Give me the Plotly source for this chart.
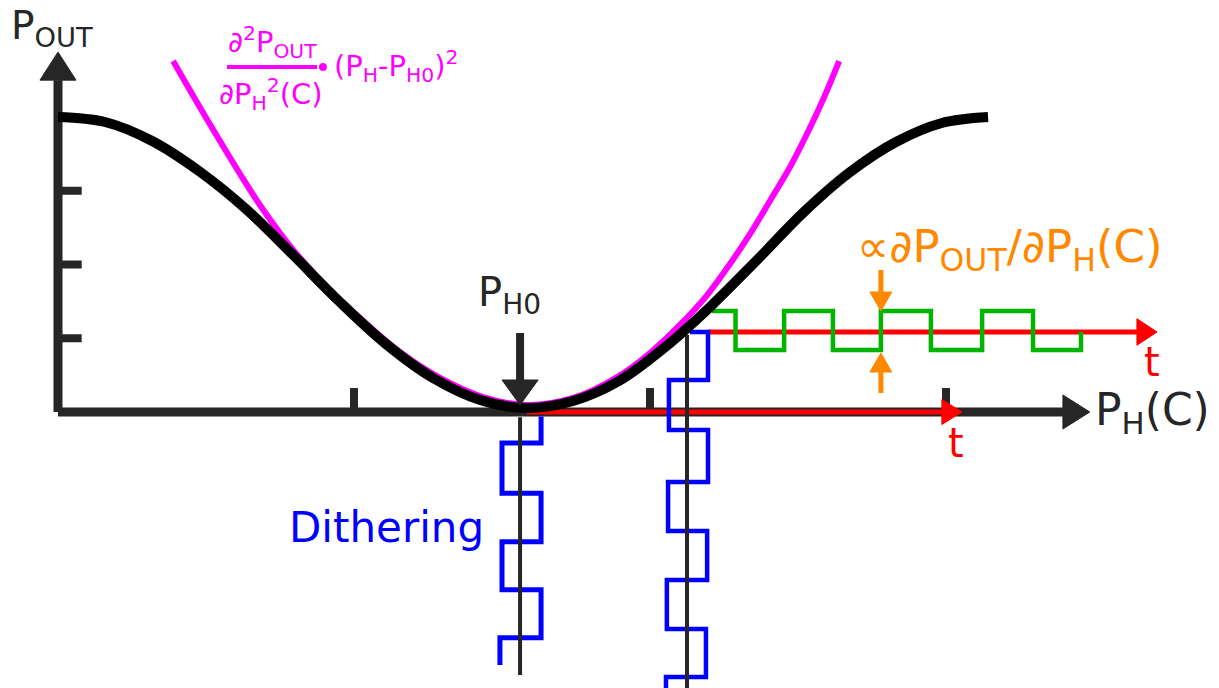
import plotly.graph_objects as go

# ---- Transfer curve P_OUT(P_H) (x: heater power in tick units, y: output power in tick units)
PH_CURVE = [0.0, 0.159, 0.318, 0.476, 0.635, 0.791, 0.949, 1.108, 1.267, 1.426, 1.584,
            1.740, 1.895, 2.051, 2.206, 2.365, 2.520, 2.676, 2.831, 2.986, 3.142]
POUT_CURVE = [4.0, 3.932, 3.675, 3.268, 2.753, 2.142, 1.505, 0.922, 0.461, 0.163, 0.054,
              0.149, 0.42, 0.88, 1.437, 2.075, 2.712, 3.254, 3.661, 3.919, 4.0]

# ---- Second-order (parabolic) approximation around P_H0
PH_PARAB = [0.389, 0.463, 0.541, 0.615, 0.682, 0.750, 0.818, 0.919, 1.020, 1.155, 1.291, 1.436,
            1.584, 1.740, 1.895, 2.0, 2.101, 2.193, 2.270, 2.338, 2.405, 2.473, 2.530, 2.584, 2.639]
POUT_PARAB = [4.76, 4.244, 3.715, 3.227, 2.807, 2.427, 2.088, 1.654, 1.275, 0.814, 0.461, 0.203,
              0.095, 0.19, 0.488, 0.80, 1.18, 1.586, 2.007, 2.414, 2.861, 3.322, 3.769, 4.231, 4.759]

# ---- Axis ticks
PH_TICKS = [1, 2, 3]
POUT_TICKS = [1, 2, 3]

# ---- Working points
PH0 = 1.561          # bottom of the curve
PH1 = 2.125          # point on the slope

# ---- Dither signals (time runs downward)
DITHER0_X = [1.632, 1.632, 1.5, 1.5, 1.632, 1.632, 1.5, 1.5, 1.632, 1.632, 1.493, 1.493]
DITHER0_Y = [-0.06, -0.42, -0.42, -1.10, -1.10, -1.76, -1.76, -2.41, -2.41, -3.06, -3.06, -3.43]
DITHER1_X = [2.135, 2.196, 2.196, 2.064, 2.064, 2.196, 2.196, 2.061, 2.061, 2.193, 2.193,
             2.057, 2.057, 2.189, 2.189, 2.054, 2.054]
DITHER1_Y = [1.085, 1.085, 0.434, 0.434, -0.244, -0.244, -0.949, -0.949, -1.614, -1.614,
             -2.278, -2.278, -2.942, -2.942, -3.593, -3.593, -3.80]

# ---- Output response at the slope point (time runs to the right)
RESP_T = [2.209, 2.289, 2.289, 2.453, 2.453, 2.618, 2.618, 2.780, 2.780, 2.949, 2.949,
          3.122, 3.122, 3.294, 3.294, 3.456, 3.456]
RESP_V = [1.37, 1.37, 0.84, 0.84, 1.37, 1.37, 0.84, 0.84, 1.37, 1.37, 0.84,
          0.84, 1.37, 1.37, 0.84, 0.84, 1.085]
RESP_BASE = 1.085    # level of the upper time axis

DARK = "#262626"
MAGENTA = "#ff00ff"
RED = "#ff0000"
GREEN = "#00b400"
BLUE = "#0000ff"
ORANGE = "#ff8800"
FONT = "DejaVu Sans"

fig = go.Figure()


def line(xs, ys, color, width, shape="linear"):
    fig.add_trace(go.Scatter(x=xs, y=ys, mode="lines", hoverinfo="skip",
                             line=dict(color=color, width=width, shape=shape, smoothing=1.0)))


def tri(xs, ys, color):
    fig.add_trace(go.Scatter(x=xs + [xs[0]], y=ys + [ys[0]], mode="lines", fill="toself",
                             fillcolor=color, line=dict(color=color, width=1), hoverinfo="skip"))


def arrow_right(x0, x_base, x_tip, y, hh, color, width):
    line([x0, x_base], [y, y], color, width)
    tri([x_base, x_tip, x_base], [y - hh, y, y + hh], color)


def arrow_vert(x, y0, y_base, y_tip, hw, color, width):
    line([x, x], [y0, y_base], color, width)
    tri([x - hw, x, x + hw], [y_base, y_tip, y_base], color)


# axes
arrow_right(0, 3.395, 3.486, 0, 0.23, DARK, 9)
arrow_vert(0, 0, 4.5, 4.88, 0.061, DARK, 9)
for t in PH_TICKS:
    line([t, t], [0, 0.325], DARK, 8)
for t in POUT_TICKS:
    line([0, 0.08], [t, t], DARK, 8)

# time axes
arrow_right(1.584, 2.986, 3.054, 0, 0.17, RED, 5)
arrow_right(2.196, 3.645, 3.713, RESP_BASE, 0.18, RED, 5)

# output response
line(RESP_T, RESP_V, GREEN, 4.5)

# dither signals and their centre lines
line(DITHER0_X, DITHER0_Y, BLUE, 5)
line(DITHER1_X, DITHER1_Y, BLUE, 4.5)
line([PH0, PH0], [-0.07, -3.566], DARK, 4)
line([PH1, PH1], [1.044, -3.80], DARK, 4)

# curves
line(PH_PARAB, POUT_PARAB, MAGENTA, 6, "spline")
line(PH_CURVE, POUT_CURVE, "#000000", 10, "spline")

# working-point marker
arrow_vert(PH0, 1.071, 0.434, 0.095, 0.061, DARK, 8)

# slope amplitude markers
arrow_vert(2.780, 1.925, 1.627, 1.37, 0.037, ORANGE, 5)
arrow_vert(2.780, 0.258, 0.542, 0.80, 0.037, ORANGE, 5)

# fraction bar and product dot of the magenta formula
line([0.571, 0.875], [4.678, 4.678], MAGENTA, 4)
fig.add_trace(go.Scatter(x=[0.895], y=[4.678], mode="markers", hoverinfo="skip",
                         marker=dict(color=MAGENTA, size=8)))

ann = []


def text(x, y, s, color, size, xa="center", ya="middle"):
    ann.append(dict(x=x, y=y, text=s, showarrow=False, xanchor=xa, yanchor=ya,
                    font=dict(family=FONT, size=size, color=color)))


text(-0.165, 5.207, "P<sub>OUT</sub>", DARK, 39, xa="left")
text(3.495, 0.0, "P<sub>H</sub>(C)", DARK, 44, xa="left")
text(1.524, 1.586, "P<sub>H0</sub>", DARK, 40)
text(3.034, -0.42, "t", RED, 40)
text(3.696, 0.678, "t", RED, 40)
text(1.111, -1.56, "Dithering", BLUE, 42)
text(3.216, 2.21, "∝∂P<sub>OUT</sub>/∂P<sub>H</sub>(C)", ORANGE, 45)
text(0.723, 4.70, "∂<sup>2</sup>P<sub>OUT</sub>", MAGENTA, 29, ya="bottom")
text(0.720, 4.62, "∂P<sub>H</sub><sup>2</sup>(C)", MAGENTA, 29, ya="top")
text(0.926, 4.69, "(P<sub>H</sub>-P<sub>H0</sub>)<sup>2</sup>", MAGENTA, 29, xa="left")

fig.update_layout(
    width=1219, height=688,
    margin=dict(l=0, r=0, t=0, b=0),
    paper_bgcolor="white", plot_bgcolor="white",
    showlegend=False, hovermode=False,
    annotations=ann,
    xaxis=dict(range=[-58 / 296, (1219 - 58) / 296], visible=False, fixedrange=True),
    yaxis=dict(range=[(412 - 688) / 73.75, 412 / 73.75], visible=False, fixedrange=True),
)

fig.write_html("out.html", config={"displayModeBar": False})
